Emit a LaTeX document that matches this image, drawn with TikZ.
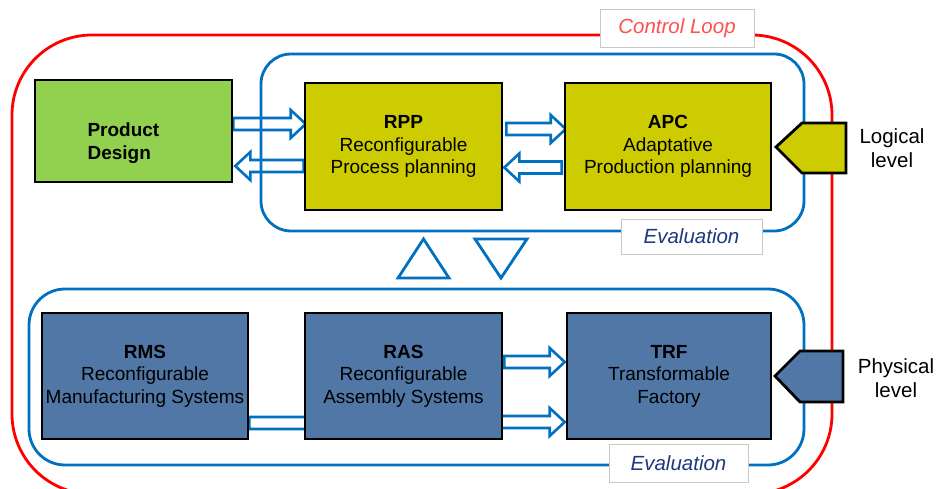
\documentclass[tikz,border=0pt]{standalone}
\usepackage{fontspec}
\setmainfont{Liberation Sans}
\usetikzlibrary{calc}
\pgfdeclarelayer{bg}
\pgfsetlayers{bg,main}
\definecolor{loopred}{RGB}{255,0,0}
\definecolor{frameblue}{RGB}{0,112,192}
\definecolor{pdgreen}{RGB}{146,208,80}
\definecolor{olivebox}{RGB}{204,204,0}
\definecolor{steelbox}{RGB}{80,119,166}
\definecolor{labelred}{RGB}{255,80,80}
\definecolor{navytext}{RGB}{31,56,128}
\definecolor{lblgray}{RGB}{200,200,200}
\tikzset{
  procbox/.style={draw=black, line width=2.6pt, inner sep=0pt, align=center,
    font=\fontsize{19}{22.5}\selectfont},
  barrow/.style={draw=frameblue, line width=2.6pt, line join=miter},
  frame/.style={draw=frameblue, line width=2.8pt, rounded corners=30pt},
  tagbox/.style={draw=lblgray, fill=white, line width=0.8pt, inner sep=0pt,
    font=\fontsize{20.5}{24}\selectfont\itshape},
  levelshape/.style={draw=black, line width=2.8pt, line join=miter},
  leveltext/.style={align=center, font=\fontsize{20.5}{24}\selectfont},
  tri/.style={draw=frameblue, line width=2.8pt, line join=miter},
}
\newcommand\blockarr[2]{%
  \draw[barrow] let \p1=#1, \p2=#2, \n1={ifthenelse(\x2>\x1,1,-1)} in
    (\x1,{\y1+6pt}) -- ({\x2-\n1*15pt},{\y1+6pt}) -- ({\x2-\n1*15pt},{\y1+14pt})
    -- (\x2,\y1) -- ({\x2-\n1*15pt},{\y1-14pt}) -- ({\x2-\n1*15pt},{\y1-6pt})
    -- (\x1,{\y1-6pt}) -- cycle;}
\begin{document}
\begin{tikzpicture}[x=1pt,y=-1pt]
\useasboundingbox (0,0) rectangle (938,489);

% process boxes
\node[procbox, fill=pdgreen, minimum width=197pt, minimum height=102pt] (pd) at (133.5,131) {};
\node[align=left, anchor=west, font=\fontsize{19}{23}\selectfont\bfseries] (pdt) at (84,143) {Product\\Design};
\node[procbox, fill=olivebox, minimum width=197pt, minimum height=127pt] (rpp) at (403.5,146.5)
  {\textbf{RPP}\\Reconfigurable\\Process planning};
\node[procbox, fill=olivebox, minimum width=206pt, minimum height=127pt] (apc) at (668,146.5)
  {\textbf{APC}\\Adaptative\\Production planning};
\node[procbox, fill=steelbox, minimum width=206pt, minimum height=126pt] (rms) at (145,376)
  {\textbf{RMS}\\Reconfigurable\\Manufacturing Systems};
\node[procbox, fill=steelbox, minimum width=197pt, minimum height=126pt] (ras) at (403.5,376)
  {\textbf{RAS}\\Reconfigurable\\Assembly Systems};
\node[procbox, fill=steelbox, minimum width=204pt, minimum height=126pt] (trf) at (669,376)
  {\textbf{TRF}\\Transformable\\Factory};

\begin{pgfonlayer}{bg}
  % control loop and evaluation frames
  \draw[loopred, line width=2.8pt, rounded corners=80pt] (12,35) rectangle (832,494);
  \draw[frame] (261,54) rectangle (804,231);
  \draw[frame, rounded corners=36pt] (29,289) rectangle (804,465);
  % block arrows
  \blockarr{($(pd.east)+(0,-7)$)}{($(rpp.west)+(2,0)$)}
  \blockarr{($(rpp.west)+(0,19.5)$)}{($(pd.east)+(2,0)$)}
  \blockarr{($(rpp.east)+(3,-17.5)$)}{($(apc.west)+(2,0)$)}
  \blockarr{($(apc.west)+(-2,21)$)}{($(rpp.east)+(1,0)$)}
  \blockarr{($(ras.east)+(1,-14)$)}{($(trf.west)+(-1,0)$)}
  \blockarr{($(ras.center)+(0,46)$)}{($(trf.west)+(-1,0)$)}
  \blockarr{($(rms.east)+(0,47)$)}{($(ras.center)+(15,0)$)}
\end{pgfonlayer}

% triangles between levels
\draw[tri] (398,278) -- (423.5,239) -- (449,278) -- cycle;
\draw[tri] (475,239) -- (527,239) -- (501,278) -- cycle;

% level markers
\draw[levelshape, fill=olivebox] (776,147) -- (802,123) -- (846,123) -- (846,173) -- (802,173) -- cycle;
\node[leveltext] (logical) at (892,148) {Logical\\level};
\draw[levelshape, fill=steelbox] (775,376) -- (800,351) -- (843,351) -- (843,402) -- (800,402) -- cycle;
\node[leveltext] (physical) at (896,378) {Physical\\level};

% tags
\node[tagbox, text=labelred, minimum width=154pt, minimum height=38pt] (cl) at (677,28) {Control Loop};
\node[tagbox, text=navytext, minimum width=141pt, minimum height=35pt] (evtop) at (691.5,236.5) {Evaluation};
\node[tagbox, text=navytext, minimum width=139pt, minimum height=38pt] (evbot) at (678.5,463) {Evaluation};
\end{tikzpicture}
\end{document}
